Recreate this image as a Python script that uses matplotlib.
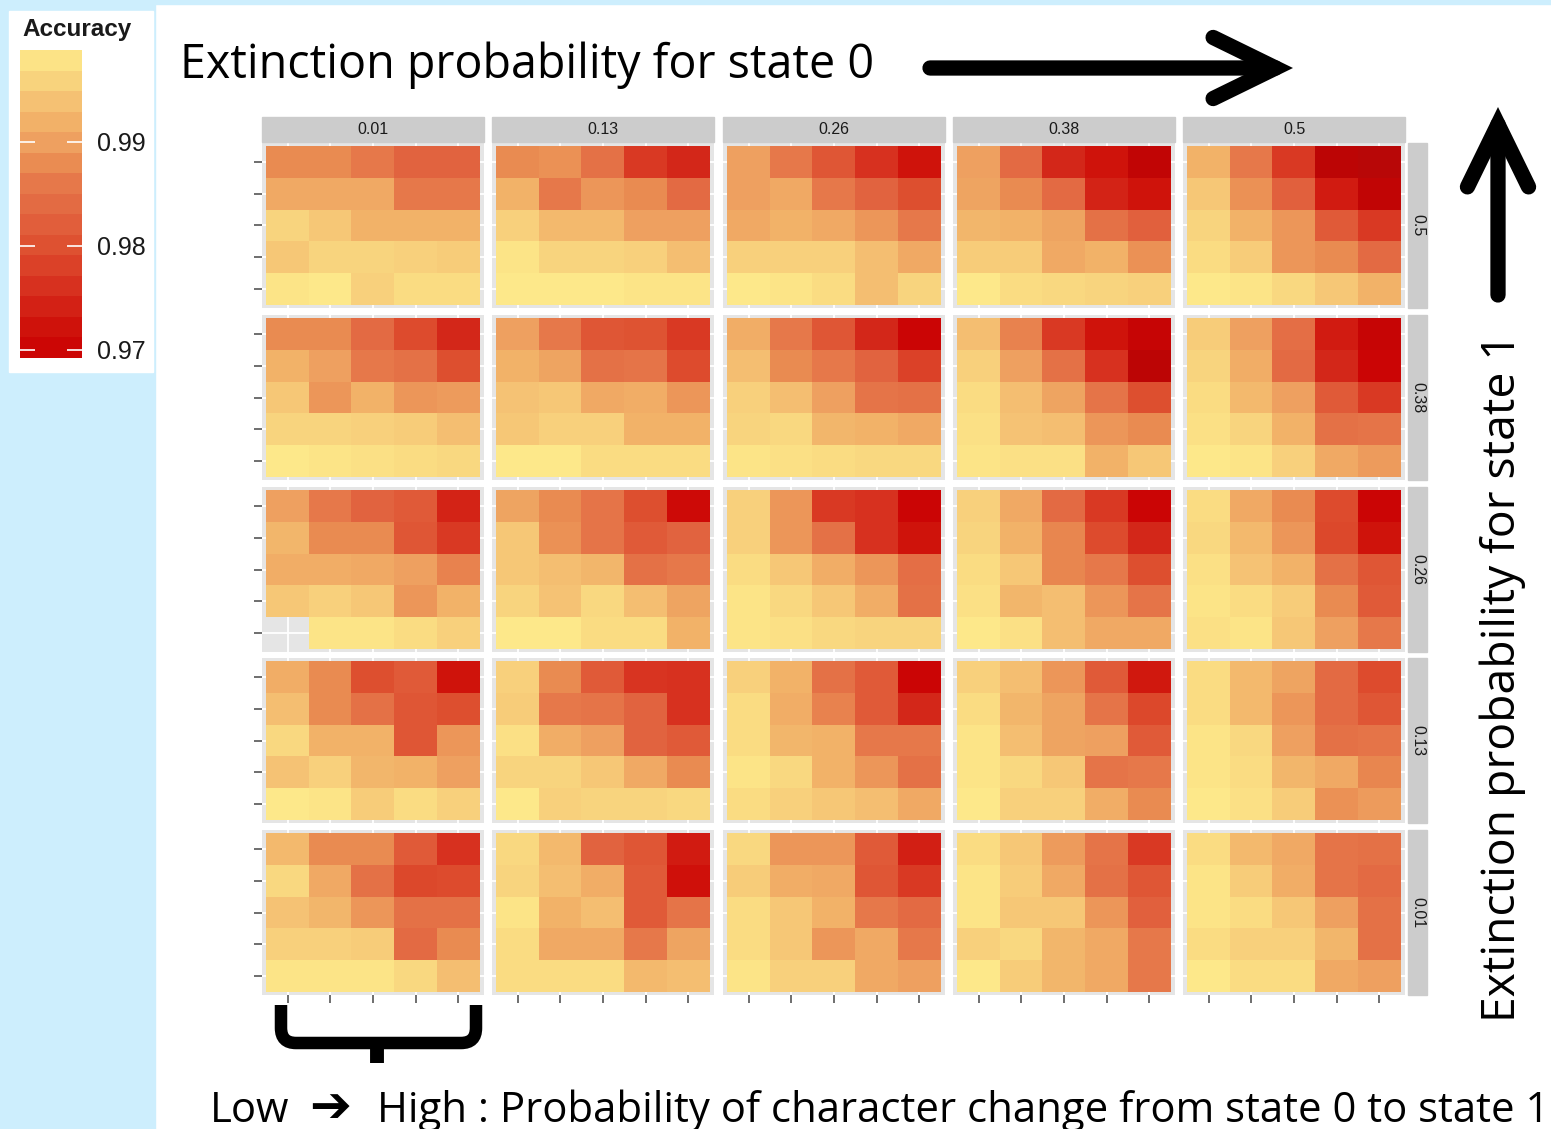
import numpy as np
import matplotlib
matplotlib.use("Agg")
import matplotlib.pyplot as plt
from matplotlib.colors import LinearSegmentedColormap, Normalize
from matplotlib.cm import ScalarMappable
from matplotlib.patches import Rectangle, FancyArrowPatch, PathPatch
from matplotlib.path import Path
from matplotlib.transforms import Affine2D

W, H = 1551, 1129

# facet labels
ext_state0 = ["0.01", "0.13", "0.26", "0.38", "0.5"]   # facet columns
ext_state1 = ["0.5", "0.38", "0.26", "0.13", "0.01"]   # facet rows, top to bottom

# accuracy per facet row (state-1 extinction); 5 panels (state-0 extinction),
# each 5x5 tiles listed top row first, columns low -> high change rate 0->1
acc_ext1_050 = [
    [[0.988, 0.988, 0.986, 0.983, 0.983],
     [0.991, 0.991, 0.991, 0.986, 0.986],
     [0.996, 0.9945, 0.992, 0.992, 0.992],
     [0.9945, 0.996, 0.996, 0.9955, 0.995],
     [0.998, 0.9985, 0.9955, 0.997, 0.997]],
    [[0.988, 0.9885, 0.985, 0.977, 0.975],
     [0.992, 0.986, 0.989, 0.988, 0.984],
     [0.9955, 0.993, 0.993, 0.990, 0.990],
     [0.998, 0.996, 0.996, 0.9955, 0.9935],
     [0.9985, 0.9985, 0.9985, 0.998, 0.998]],
    [[0.990, 0.986, 0.981, 0.976, 0.9725],
     [0.990, 0.991, 0.986, 0.983, 0.980],
     [0.991, 0.992, 0.991, 0.989, 0.986],
     [0.9955, 0.9955, 0.9955, 0.9935, 0.991],
     [0.9985, 0.998, 0.997, 0.9935, 0.996]],
    [[0.990, 0.984, 0.975, 0.9725, 0.968],
     [0.9905, 0.988, 0.984, 0.9745, 0.9725],
     [0.9925, 0.992, 0.9905, 0.985, 0.9825],
     [0.995, 0.995, 0.991, 0.992, 0.9885],
     [0.9985, 0.997, 0.9965, 0.996, 0.9955]],
    [[0.992, 0.986, 0.977, 0.967, 0.966],
     [0.9945, 0.9885, 0.9825, 0.9735, 0.968],
     [0.996, 0.992, 0.989, 0.9815, 0.977],
     [0.997, 0.995, 0.989, 0.988, 0.984],
     [0.9985, 0.998, 0.9965, 0.9945, 0.992]],
]

acc_ext1_038 = [
    [[0.988, 0.988, 0.984, 0.9795, 0.975],
     [0.992, 0.990, 0.986, 0.985, 0.980],
     [0.9945, 0.989, 0.992, 0.989, 0.9895],
     [0.996, 0.996, 0.9955, 0.995, 0.9935],
     [0.9985, 0.998, 0.9975, 0.997, 0.9965]],
    [[0.990, 0.986, 0.981, 0.9805, 0.977],
     [0.992, 0.9905, 0.985, 0.9855, 0.9795],
     [0.994, 0.9945, 0.991, 0.9915, 0.989],
     [0.9945, 0.9955, 0.9955, 0.992, 0.992],
     [0.9985, 0.9985, 0.997, 0.997, 0.997]],
    [[0.9915, 0.986, 0.981, 0.975, 0.970],
     [0.9935, 0.988, 0.986, 0.983, 0.978],
     [0.9955, 0.9935, 0.990, 0.9855, 0.985],
     [0.996, 0.9965, 0.9925, 0.992, 0.991],
     [0.998, 0.9975, 0.997, 0.9965, 0.9965]],
    [[0.9935, 0.987, 0.977, 0.9725, 0.969],
     [0.9955, 0.990, 0.985, 0.976, 0.967],
     [0.997, 0.9935, 0.9905, 0.9855, 0.980],
     [0.9975, 0.994, 0.9935, 0.989, 0.988],
     [0.998, 0.9975, 0.9975, 0.992, 0.9945]],
    [[0.995, 0.990, 0.9845, 0.9735, 0.969],
     [0.996, 0.9915, 0.984, 0.975, 0.970],
     [0.997, 0.993, 0.990, 0.9815, 0.977],
     [0.9975, 0.996, 0.992, 0.985, 0.9855],
     [0.9985, 0.998, 0.9955, 0.991, 0.9895]],
]

acc_ext1_026 = [
    [[0.990, 0.986, 0.983, 0.9815, 0.9745],
     [0.9925, 0.988, 0.988, 0.981, 0.977],
     [0.9915, 0.9915, 0.991, 0.990, 0.987],
     [0.9945, 0.9955, 0.9945, 0.989, 0.992],
     [np.nan, 0.998, 0.998, 0.997, 0.9955]],
    [[0.9905, 0.988, 0.9855, 0.980, 0.971],
     [0.9945, 0.9885, 0.9855, 0.9815, 0.983],
     [0.9945, 0.9935, 0.9925, 0.985, 0.986],
     [0.996, 0.994, 0.9965, 0.9935, 0.9905],
     [0.9985, 0.9985, 0.997, 0.997, 0.992]],
    [[0.9955, 0.989, 0.977, 0.976, 0.970],
     [0.9955, 0.989, 0.985, 0.976, 0.9725],
     [0.997, 0.9945, 0.9915, 0.989, 0.9845],
     [0.998, 0.9965, 0.9945, 0.9915, 0.985],
     [0.998, 0.9975, 0.9965, 0.996, 0.996]],
    [[0.9955, 0.991, 0.984, 0.977, 0.970],
     [0.996, 0.992, 0.9875, 0.9795, 0.975],
     [0.997, 0.9945, 0.9875, 0.986, 0.980],
     [0.9975, 0.9925, 0.9935, 0.989, 0.9855],
     [0.9985, 0.9975, 0.9935, 0.991, 0.991]],
    [[0.997, 0.991, 0.988, 0.9795, 0.970],
     [0.9965, 0.993, 0.989, 0.979, 0.9725],
     [0.9975, 0.994, 0.992, 0.985, 0.981],
     [0.998, 0.997, 0.995, 0.988, 0.9815],
     [0.9975, 0.998, 0.9945, 0.990, 0.986]],
]

acc_ext1_013 = [
    [[0.9915, 0.988, 0.980, 0.9815, 0.9725],
     [0.9935, 0.988, 0.985, 0.981, 0.980],
     [0.9965, 0.992, 0.992, 0.981, 0.989],
     [0.994, 0.9955, 0.9925, 0.992, 0.990],
     [0.9985, 0.998, 0.995, 0.997, 0.9955]],
    [[0.9955, 0.988, 0.9815, 0.9765, 0.976],
     [0.995, 0.986, 0.9855, 0.983, 0.976],
     [0.9975, 0.9915, 0.990, 0.983, 0.9815],
     [0.996, 0.996, 0.9945, 0.991, 0.988],
     [0.9985, 0.9955, 0.996, 0.996, 0.9965]],
    [[0.9955, 0.992, 0.985, 0.9815, 0.970],
     [0.997, 0.9915, 0.987, 0.9815, 0.975],
     [0.997, 0.9925, 0.992, 0.986, 0.986],
     [0.998, 0.9965, 0.992, 0.989, 0.985],
     [0.997, 0.9955, 0.9945, 0.9935, 0.991]],
    [[0.9955, 0.9935, 0.989, 0.9815, 0.973],
     [0.997, 0.9925, 0.9905, 0.9855, 0.979],
     [0.998, 0.9935, 0.9905, 0.990, 0.9815],
     [0.998, 0.9965, 0.9945, 0.9855, 0.986],
     [0.9985, 0.9955, 0.9955, 0.9915, 0.988]],
    [[0.997, 0.993, 0.9905, 0.984, 0.9795],
     [0.997, 0.993, 0.989, 0.984, 0.981],
     [0.998, 0.9965, 0.990, 0.985, 0.9855],
     [0.998, 0.997, 0.9925, 0.991, 0.9875],
     [0.9985, 0.9975, 0.995, 0.9885, 0.9895]],
]

acc_ext1_001 = [
    [[0.993, 0.988, 0.988, 0.9815, 0.976],
     [0.9965, 0.991, 0.985, 0.979, 0.9795],
     [0.994, 0.9925, 0.989, 0.985, 0.985],
     [0.9955, 0.9955, 0.995, 0.984, 0.988],
     [0.998, 0.998, 0.998, 0.9965, 0.9935]],
    [[0.9965, 0.993, 0.983, 0.981, 0.9735],
     [0.996, 0.9935, 0.9915, 0.9815, 0.972],
     [0.998, 0.992, 0.9935, 0.9815, 0.9855],
     [0.997, 0.991, 0.991, 0.986, 0.9905],
     [0.997, 0.997, 0.997, 0.993, 0.9935]],
    [[0.9965, 0.989, 0.989, 0.9815, 0.974],
     [0.995, 0.9915, 0.991, 0.981, 0.977],
     [0.997, 0.9945, 0.992, 0.986, 0.984],
     [0.997, 0.9945, 0.989, 0.991, 0.986],
     [0.998, 0.9955, 0.9955, 0.991, 0.990]],
    [[0.997, 0.9945, 0.9895, 0.9855, 0.977],
     [0.998, 0.995, 0.991, 0.985, 0.981],
     [0.998, 0.9945, 0.9945, 0.989, 0.9825],
     [0.9955, 0.9965, 0.9925, 0.991, 0.986],
     [0.9985, 0.995, 0.9925, 0.991, 0.986]],
    [[0.997, 0.993, 0.991, 0.9855, 0.985],
     [0.998, 0.995, 0.9915, 0.9855, 0.984],
     [0.998, 0.997, 0.9945, 0.990, 0.985],
     [0.997, 0.9955, 0.9955, 0.9925, 0.985],
     [0.9985, 0.997, 0.997, 0.991, 0.990]],
]

acc_rows = [acc_ext1_050, acc_ext1_038, acc_ext1_026, acc_ext1_013, acc_ext1_001]

# colour scale (yellow = high accuracy, dark red = low)
scale_vals = [0.965, 0.967, 0.970, 0.9725, 0.975, 0.977, 0.980, 0.983,
              0.986, 0.988, 0.990, 0.992, 0.994, 0.9955, 0.997, 0.9985]
scale_cols = ["#b40a0a", "#bd0505", "#cc0505", "#d0140c", "#d4281a", "#da3a24",
              "#de5030", "#e26440", "#e6784a", "#ea8c52", "#eea060", "#f2b268",
              "#f5c274", "#f8d07c", "#fadc82", "#fde88a"]
vmin, vmax = scale_vals[0], scale_vals[-1]
cmap = LinearSegmentedColormap.from_list(
    "acc", [((v - vmin) / (vmax - vmin), c) for v, c in zip(scale_vals, scale_cols)])
norm = Normalize(vmin, vmax)

fig = plt.figure(figsize=(W / 100, H / 100), dpi=100)
fig.patch.set_facecolor("white")
px = Affine2D().scale(1.0 / W, -1.0 / H).translate(0, 1) + fig.transFigure


def px_axes(x0, y0, x1, y1):
    return fig.add_axes([x0 / W, 1 - y1 / H, (x1 - x0) / W, (y1 - y0) / H])


def fit_text(x, y, s, length, rotation=0, **kw):
    t = fig.text(x, y, s, transform=px, fontsize=40, rotation=rotation, **kw)
    bb = t.get_window_extent(fig.canvas.get_renderer())
    span = bb.width if rotation == 0 else bb.height
    t.set_fontsize(40 * length / span)
    return t


# slide background
blue = "#cdeefd"
fig.add_artist(Rectangle((0, 0), 155, H, transform=px, color=blue, zorder=0))
fig.add_artist(Rectangle((0, 0), W, 4, transform=px, color=blue, zorder=0))
fig.add_artist(Rectangle((9, 11), 144, 361, transform=px, color="white", zorder=0))

# facet grid
col_x = [262, 492, 723, 953, 1183]
row_y = [143, 315, 487, 658, 830]
pw, ph = 222, 165

for i, facet_row in enumerate(acc_rows):
    for j, tiles in enumerate(facet_row):
        ax = px_axes(col_x[j], row_y[i], col_x[j] + pw, row_y[i] + ph)
        ax.set_facecolor("#e5e5e5")
        ax.imshow(np.array(tiles, dtype=float), cmap=cmap, norm=norm,
                  extent=(-0.5, 4.5, -0.5, 4.5), origin="upper",
                  aspect="auto", interpolation="nearest", zorder=2)
        ax.set_xlim(-0.6, 4.6)
        ax.set_ylim(-0.6, 4.6)
        ax.set_xticks(range(5))
        ax.set_yticks(range(5))
        ax.grid(True, color="white", lw=1.3)
        ax.set_axisbelow(True)
        for s in ax.spines.values():
            s.set_visible(False)
        ax.tick_params(length=6, width=1.2, color="#555555",
                       labelbottom=False, labelleft=False,
                       bottom=(i == 4), left=(j == 0))

# strips
for j, lab in enumerate(ext_state0):
    fig.add_artist(Rectangle((col_x[j], 117), pw, 25, transform=px,
                             color="#cccccc", zorder=1))
    fig.text(col_x[j] + pw / 2, 130, lab, transform=px, ha="center", va="center",
             fontsize=11.5, color="#1a1a1a", family="Liberation Sans")
for i, lab in enumerate(ext_state1):
    fig.add_artist(Rectangle((1408, row_y[i]), 19, ph, transform=px,
                             color="#cccccc", zorder=1))
    fig.text(1417.5, row_y[i] + ph / 2, lab, transform=px, ha="center",
             va="center", rotation=-90, fontsize=11.5, color="#1a1a1a",
             family="Liberation Sans")

# legend
fig.text(22, 36, "Accuracy", transform=px, fontsize=17.5, fontweight="bold",
         family="Liberation Sans", color="#1a1a1a", va="baseline")
cax = px_axes(20, 50, 82, 358)
cb = fig.colorbar(ScalarMappable(norm=norm, cmap=cmap), cax=cax,
                  boundaries=np.linspace(0.9692, 0.9988, 16))
cb.set_ticks([0.97, 0.98, 0.99])
cb.set_ticklabels(["0.97", "0.98", "0.99"])
cb.outline.set_visible(False)
cax.tick_params(direction="in", length=11, width=1.2, colors="white",
                left=True, right=True, labelcolor="#1a1a1a", labelsize=18,
                pad=11)
for lab in cax.get_yticklabels():
    lab.set_family("Liberation Sans")

# annotation texts
font = ["Open Sans"]
fit_text(180, 78, "Extinction probability for state 0", 692, family=font,
         va="baseline", color="black")
fit_text(1503, 678, "Extinction probability for state 1", 687, rotation=90,
         family=font, ha="center", va="center", color="black")
t_low = fit_text(377, 1122,
                 "High : Probability of character change from state 0 to state 1",
                 1168, family=font, va="baseline", color="black")
fig.text(210, 1122, "Low", transform=px, fontsize=t_low.get_fontsize(),
         family=font, va="baseline", color="black")
fit_text(309, 1122, "\u2794", 42, family="DejaVu Sans", va="baseline",
         color="black", fontweight="bold")

# arrows
for a, b in [((930, 68), (1293, 68)), ((1498, 295), (1498, 107))]:
    fig.add_artist(FancyArrowPatch(a, b, transform=px,
                                   arrowstyle="->,head_length=4.5,head_width=2.2",
                                   mutation_scale=10, lw=11, color="black",
                                   shrinkA=0, shrinkB=0, capstyle="round",
                                   joinstyle="miter"))

# bracket under the first facet column
verts = [(281, 1005), (281, 1028), (281, 1043), (296, 1043), (461, 1043),
         (476, 1043), (476, 1028), (476, 1005)]
codes = [Path.MOVETO, Path.LINETO, Path.CURVE3, Path.CURVE3, Path.LINETO,
         Path.CURVE3, Path.CURVE3, Path.LINETO]
fig.add_artist(PathPatch(Path(verts, codes), transform=px, fill=False,
                         lw=9, color="black", capstyle="butt"))
fig.add_artist(PathPatch(Path([(377, 1040), (377, 1063)]), transform=px,
                         fill=False, lw=10, color="black", capstyle="butt"))

fig.savefig("out.png", dpi=100)
